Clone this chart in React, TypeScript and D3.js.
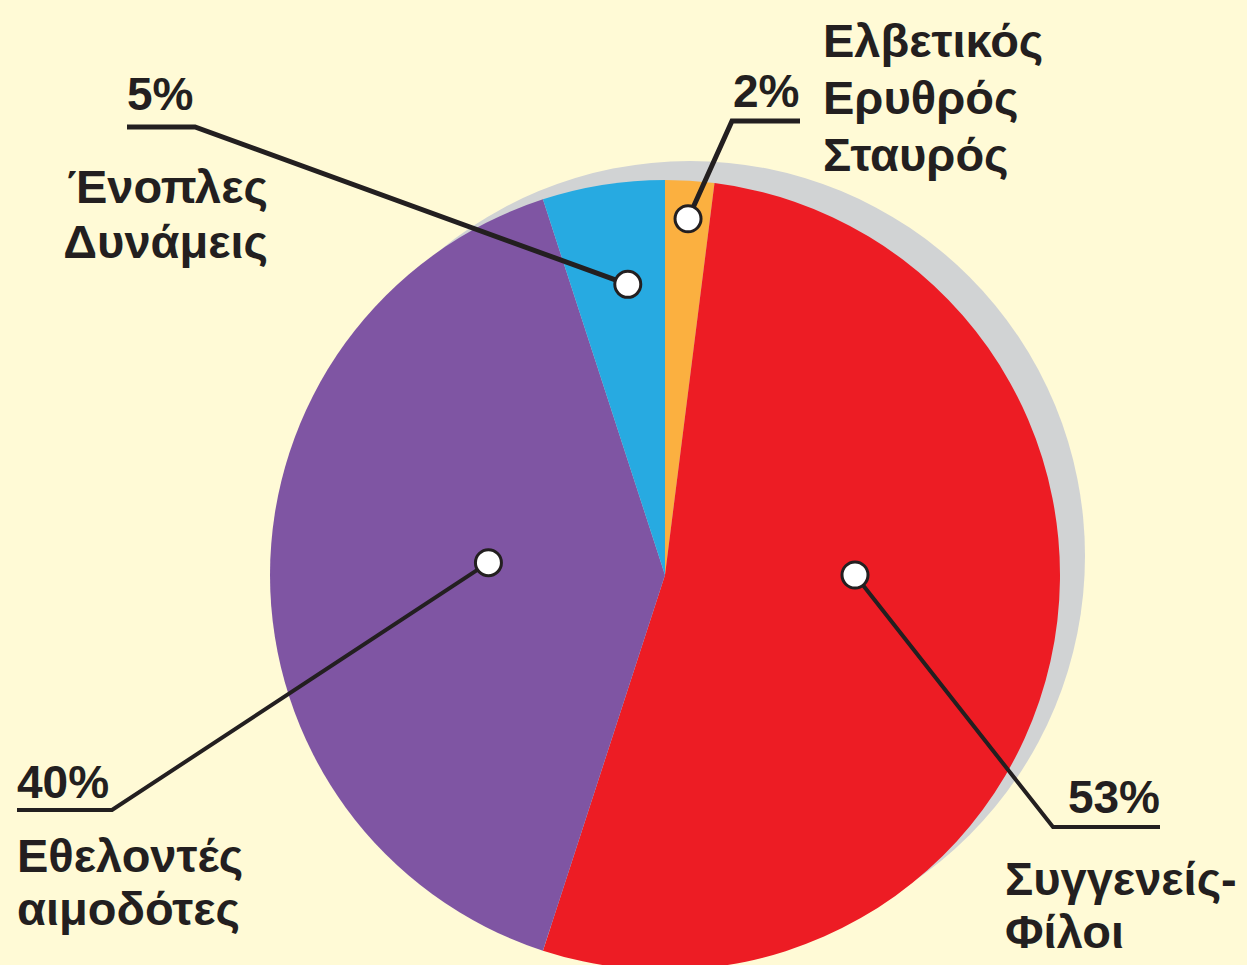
import React from "react";
import * as d3 from "d3";

const categories = ["Ελβετικός Ερυθρός Σταυρός", "Συγγενείς-Φίλοι", "Εθελοντές αιμοδότες", "Ένοπλες Δυνάμεις"];
const values = [2, 53, 40, 5];
const percentLabels = ["2%", "53%", "40%", "5%"];
const nameLines = [
  ["Ελβετικός", "Ερυθρός", "Σταυρός"],
  ["Συγγενείς-", "Φίλοι"],
  ["Εθελοντές", "αιμοδότες"],
  ["Ένοπλες", "Δυνάμεις"],
];
const colors = ["#FBB040", "#ED1C24", "#7F55A3", "#27AAE1"];

// layout (not data)
const W = 1247, H = 965;
const CX = 665, CY = 575, R = 395;
const SHADOW_DX = 25, SHADOW_DY = -19;
const layout = [
  { anchorAngle: 3.7, anchorR: 357, elbow: [732, 121], lineEnd: [800, 121], pctX: 733, pctY: 107, pctAnchor: "start", nameX: 823, nameY: 57, nameAnchor: "start", lh: 57, lw: 5 },
  { anchorAngle: 90, anchorR: 190, elbow: [1053, 827], lineEnd: [1160, 827], pctX: 1160, pctY: 813, pctAnchor: "end", nameX: 1005, nameY: 895, nameAnchor: "start", lh: 53, lw: 4 },
  { anchorAngle: 274, anchorR: 177, elbow: [112, 810], lineEnd: [17, 810], pctX: 17, pctY: 798, pctAnchor: "start", nameX: 17, nameY: 872, nameAnchor: "start", lh: 53, lw: 4 },
  { anchorAngle: 352.7, anchorR: 293, elbow: [195, 127], lineEnd: [127, 127], pctX: 127, pctY: 110, pctAnchor: "start", nameX: 268, nameY: 203, nameAnchor: "end", lh: 55, lw: 5 },
];

const TEXT = "#231F20";
const FONT = "'Liberation Sans', Arial, Helvetica, sans-serif";

export default function App() {
  const pie = d3.pie<number>().sort(null).startAngle(0).endAngle(2 * Math.PI);
  const arcs = pie(values);
  const arc = d3.arc<d3.PieArcDatum<number>>().innerRadius(0).outerRadius(R);

  return (
    <svg width={W} height={H} style={{ position: "absolute", left: 0, top: 0, display: "block" }}>
      <rect x={0} y={0} width={W} height={H} fill="#FFFAD6" />
      <circle cx={CX + SHADOW_DX} cy={CY + SHADOW_DY} r={R} fill="#D1D3D4" />
      <g transform={`translate(${CX},${CY})`}>
        {arcs.map((a, i) => (
          <path key={categories[i]} d={arc(a) || ""} fill={colors[i]} />
        ))}
      </g>
      {arcs.map((a, i) => {
        const L = layout[i];
        const ang = (L.anchorAngle * Math.PI) / 180;
        const ax = CX + Math.sin(ang) * L.anchorR;
        const ay = CY - Math.cos(ang) * L.anchorR;
        const line = d3.line()([[ax, ay], L.elbow as [number, number], L.lineEnd as [number, number]]);
        return (
          <g key={"lbl" + i}>
            <path d={line || ""} fill="none" stroke={TEXT} strokeWidth={L.lw} strokeLinejoin="miter" />
            <circle cx={ax} cy={ay} r={13} fill="#fff" stroke={TEXT} strokeWidth={3} />
            <text x={L.pctX} y={L.pctY} textAnchor={L.pctAnchor as any} fontFamily={FONT} fontWeight="bold" fontSize={46} fill={TEXT}>
              {percentLabels[i]}
            </text>
            {nameLines[i].map((t, j) => (
              <text key={j} x={L.nameX} y={L.nameY + j * L.lh} textAnchor={L.nameAnchor as any} fontFamily={FONT} fontWeight="bold" fontSize={47} fill={TEXT}>
                {t}
              </text>
            ))}
          </g>
        );
      })}
    </svg>
  );
}
